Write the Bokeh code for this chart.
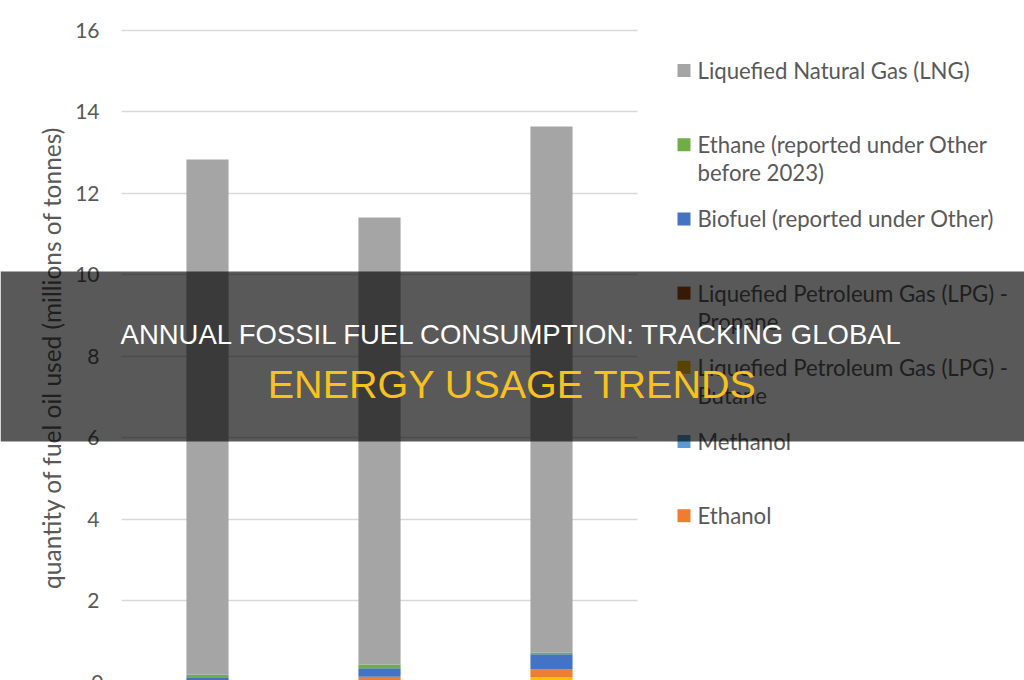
import numpy as np
from bokeh.plotting import figure
from bokeh.models import Range1d, SingleIntervalTicker, BoxAnnotation, Label
from bokeh.embed import file_html
from bokeh.resources import INLINE

# Annual quantities by fuel type (millions of tonnes)
years = ["2021", "2022", "2023"]
lng = [12.64, 10.97, 12.91]
ethane = [0.08, 0.09, 0.04]
biofuel = [0.10, 0.21, 0.37]
lpg_propane = [0.0, 0.0, 0.0]
lpg_butane = [0.0, 0.0, 0.12]
methanol = [0.0, 0.0, 0.0]
ethanol = [0.0, 0.13, 0.19]

# legend order (top to bottom)
legend_names = [
    "Liquefied Natural Gas (LNG)",
    "Ethane (reported under Other\nbefore 2023)",
    "Biofuel (reported under Other)",
    "Liquefied Petroleum Gas (LPG) -\nPropane",
    "Liquefied Petroleum Gas (LPG) -\nButane",
    "Methanol",
    "Ethanol",
]
legend_keys = ["lng", "ethane", "biofuel", "lpg_propane", "lpg_butane", "methanol", "ethanol"]
colors = {
    "lng": "#A5A5A5",
    "ethane": "#70AD47",
    "biofuel": "#4472C4",
    "lpg_propane": "#9E480E",
    "lpg_butane": "#FFC000",
    "methanol": "#5B9BD5",
    "ethanol": "#ED7D31",
}
# stacking order (bottom to top)
stack_keys = ["lpg_butane", "ethanol", "methanol", "lpg_propane", "biofuel", "ethane", "lng"]

y_title = "quantity of fuel oil used (millions of tonnes)"
title_line1 = "ANNUAL FOSSIL FUEL CONSUMPTION: TRACKING GLOBAL"
title_line2 = "ENERGY USAGE TRENDS"

# one slot per year on a numeric axis, bars centred in their slot
x_pos = np.arange(len(years)) + 0.5
data = dict(x=x_pos, lng=lng, ethane=ethane, biofuel=biofuel,
            lpg_propane=lpg_propane, lpg_butane=lpg_butane,
            methanol=methanol, ethanol=ethanol)

FONT = "Lato"
TEXT_GREY = "#595959"
SLOT_PX = 172.0          # width of one year slot
AXIS_PX = 121.0          # horizontal position of the value axis
Y_START, Y_END = 0.037, 16.724

p = figure(
    width=1024, height=680,
    x_range=Range1d(-AXIS_PX / SLOT_PX, (1024 - AXIS_PX) / SLOT_PX),
    y_range=Range1d(Y_START, Y_END),
    output_backend="svg", toolbar_location=None,
    min_border=0, min_border_left=0, min_border_right=0,
    min_border_top=0, min_border_bottom=0,
)
p.outline_line_color = None
p.background_fill_color = "white"
p.border_fill_color = "white"

p.vbar_stack(stack_keys, x="x", width=0.245, source=data,
             color=[colors[k] for k in stack_keys], line_color=None)

p.xaxis.visible = False
p.xgrid.visible = False
p.ygrid.grid_line_color = "#D9D9D9"
p.ygrid.grid_line_width = 1.5
p.ygrid.cross_bounds = (0, len(years))

yax = p.yaxis[0]
yax.fixed_location = 0
yax.ticker = SingleIntervalTicker(interval=2)
yax.axis_line_color = None
yax.major_tick_line_color = None
yax.minor_tick_line_color = None
yax.major_tick_out = 0
yax.major_tick_in = 0
yax.major_label_standoff = 18
yax.major_label_text_font = FONT
yax.major_label_text_font_size = "21px"
yax.major_label_text_color = TEXT_GREY

# value-axis title: the axis runs past the lower edge, so the title is centred lower
p.add_layout(Label(x=51, y=357, x_units="canvas", y_units="canvas", text=y_title,
                   angle=np.pi / 2, text_font=FONT, text_font_size="24.5px",
                   text_color=TEXT_GREY, text_align="center", text_baseline="middle"))

# bottom tick label, sitting on the lower edge of the canvas
p.add_layout(Label(x=AXIS_PX - 18, y=0, x_units="canvas", text="0", text_font=FONT,
                   text_font_size="21px", text_color=TEXT_GREY,
                   text_align="right", text_baseline="middle"))

# legend at right
leg_x, leg_y0, leg_step, line_step = 677, 70, 74.2, 28
for i, (key, name) in enumerate(zip(legend_keys, legend_names)):
    cy = leg_y0 + i * leg_step
    p.add_layout(BoxAnnotation(left=leg_x, right=leg_x + 13, top=cy - 6.5, bottom=cy + 6.5,
                               left_units="canvas", right_units="canvas",
                               top_units="canvas", bottom_units="canvas",
                               fill_color=colors[key], fill_alpha=1.0, line_color=None))
    for j, line in enumerate(name.split("\n")):
        p.add_layout(Label(x=leg_x + 20, y=cy + j * line_step, x_units="canvas", y_units="canvas",
                           text=line, text_font=FONT, text_font_size="22.2px",
                           text_color=TEXT_GREY, text_baseline="middle"))

# dark banner with headline
band = BoxAnnotation(left=0, right=1024, top=271, bottom=441,
                     left_units="canvas", right_units="canvas",
                     top_units="canvas", bottom_units="canvas",
                     fill_color="black", fill_alpha=0.65, line_color=None, level="overlay")
p.add_layout(band)
p.add_layout(Label(x=512, y=334, x_units="canvas", y_units="canvas", text=title_line1,
                   text_font="Liberation Sans", text_font_size="27.5px", text_color="white",
                   text_align="center", text_baseline="middle", level="overlay"))
p.add_layout(Label(x=512, y=383, x_units="canvas", y_units="canvas", text=title_line2,
                   text_font="Liberation Sans", text_font_size="39.5px", text_color="#F7C21D",
                   text_align="center", text_baseline="middle", level="overlay"))

open("out.html", "w").write(file_html(p, INLINE))
